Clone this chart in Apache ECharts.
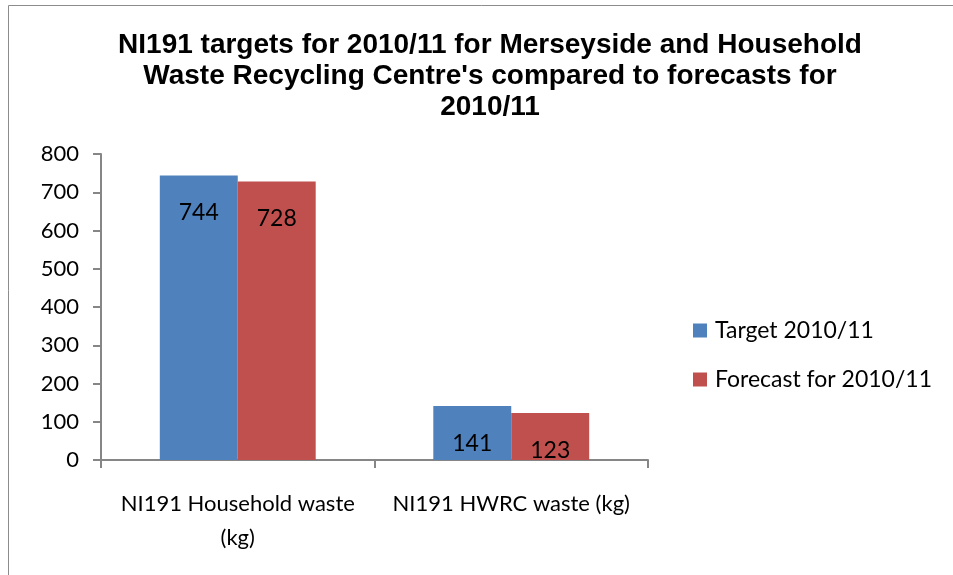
<!DOCTYPE html>
<html>
<head>
<meta charset="utf-8">
<script src="https://cdn.jsdelivr.net/npm/echarts@6/dist/echarts.min.js"></script>
<style>
  html, body { margin: 0; padding: 0; background: #fff; }
  #chartID { width: 953px; height: 575px; }
</style>
</head>
<body>
<div id="chartID"></div>
<script>
var categories = ['NI191 Household waste\n(kg)', 'NI191 HWRC waste (kg)'];
var targetValues = [744, 141];
var forecastValues = [728, 123];
var seriesNames = ['Target 2010/11', 'Forecast for 2010/11'];
var yTicks = { min: 0, max: 800, interval: 100 };

var chart = echarts.init(document.getElementById('chartID'));

var bodyFont = 'Lato, "Open Sans", sans-serif';

// label shown inside the top of each bar
var barLabel = {
    show: true,
    position: 'insideTop',
    distance: 26,
    color: '#000',
    fontFamily: bodyFont,
    fontSize: 23
};

var option = {
    animation: false,
    graphic: [{
        type: 'rect',
        shape: { x: 8.5, y: 5.5, width: 960, height: 600 },
        style: { fill: 'none', stroke: '#8c8c8c', lineWidth: 1 },
        silent: true
    }],
    title: {
        text: 'NI191 targets for 2010/11 for Merseyside and Household\nWaste Recycling Centre\'s compared to forecasts for\n2010/11',
        left: 485,
        top: 25,
        textAlign: 'center',
        textStyle: {
            fontFamily: '"Liberation Sans Narrow", "Arial Narrow", "Liberation Sans", sans-serif',
            fontWeight: 'bold',
            fontSize: 28,
            lineHeight: 31,
            color: '#000'
        }
    },
    legend: {
        orient: 'vertical',
        left: 688,
        top: 314,
        itemWidth: 14,
        itemHeight: 14,
        itemGap: 26,
        icon: 'rect',
        textStyle: {
            fontFamily: bodyFont,
            fontSize: 23,
            color: '#000',
            padding: [0, 0, 0, 3]
        },
        data: seriesNames
    },
    grid: {
        left: 101,
        right: 305,
        top: 154,
        bottom: 115,
        containLabel: false
    },
    xAxis: {
        type: 'category',
        data: categories,
        axisLine: { lineStyle: { color: '#868686', width: 2 } },
        axisTick: { show: true, length: 8, lineStyle: { color: '#868686', width: 2 } },
        axisLabel: {
            color: '#000',
            fontFamily: bodyFont,
            fontSize: 22,
            lineHeight: 34,
            margin: 27,
            interval: 0
        }
    },
    yAxis: {
        type: 'value',
        min: yTicks.min,
        max: yTicks.max,
        interval: yTicks.interval,
        splitLine: { show: false },
        axisLine: { show: true, lineStyle: { color: '#868686', width: 2 } },
        axisTick: { show: true, length: 8, lineStyle: { color: '#868686', width: 2 } },
        axisLabel: {
            color: '#000',
            fontFamily: bodyFont,
            fontSize: 22,
            margin: 22
        }
    },
    series: [
        {
            name: seriesNames[0],
            type: 'bar',
            data: targetValues,
            barGap: '0%',
            barCategoryGap: '43%',
            itemStyle: { color: '#4F81BD' },
            label: barLabel
        },
        {
            name: seriesNames[1],
            type: 'bar',
            data: forecastValues,
            itemStyle: { color: '#C0504D' },
            label: barLabel
        }
    ]
};

chart.setOption(option);
</script>
</body>
</html>
